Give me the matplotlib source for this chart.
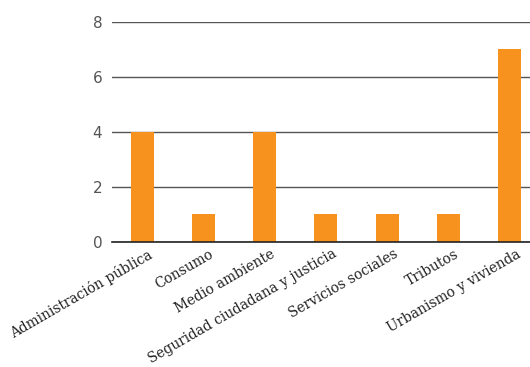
import matplotlib
matplotlib.use("Agg")
import matplotlib.pyplot as plt
from matplotlib.transforms import ScaledTranslation

categories = ["Administración pública", "Consumo", "Medio ambiente",
              "Seguridad ciudadana y justicia", "Servicios sociales",
              "Tributos", "Urbanismo y vivienda"]
values = [4, 1, 4, 1, 1, 1, 7]
yticks = [0, 2, 4, 6, 8]

fig = plt.figure(figsize=(5.30, 3.67), dpi=100)
ax = fig.add_axes([0.2113, 0.3406, 0.7887, 0.5995])

x = list(range(len(categories)))
ax.bar(x, values, width=0.375, color="#F7921E", zorder=3)

ax.set_ylim(0, 8)
ax.set_xlim(-0.49, 6.33)
ax.set_yticks(yticks)
ax.set_yticklabels([str(t) for t in yticks], fontsize=11, color="#555555",
                   family="DejaVu Sans")
ax.yaxis.grid(True, color="#555555", linewidth=1, zorder=0)
ax.set_axisbelow(True)
ax.tick_params(axis="y", length=0, pad=7)
ax.tick_params(axis="x", length=0, pad=3.5)
ax.set_xticks(x)
ax.set_xticklabels(categories, rotation=30, ha="right", rotation_mode="anchor",
                   fontsize=9.9, family="DejaVu Serif", color="#222222")
shift = ScaledTranslation(6 / 100, 0, fig.dpi_scale_trans)
for lbl in ax.get_xticklabels():
    lbl.set_transform(lbl.get_transform() + shift)

for s in ["top", "right", "left"]:
    ax.spines[s].set_visible(False)
ax.spines["bottom"].set_color("#222222")
ax.spines["bottom"].set_linewidth(1.2)
ax.spines["bottom"].set_zorder(4)

fig.savefig("out.png", dpi=100)
